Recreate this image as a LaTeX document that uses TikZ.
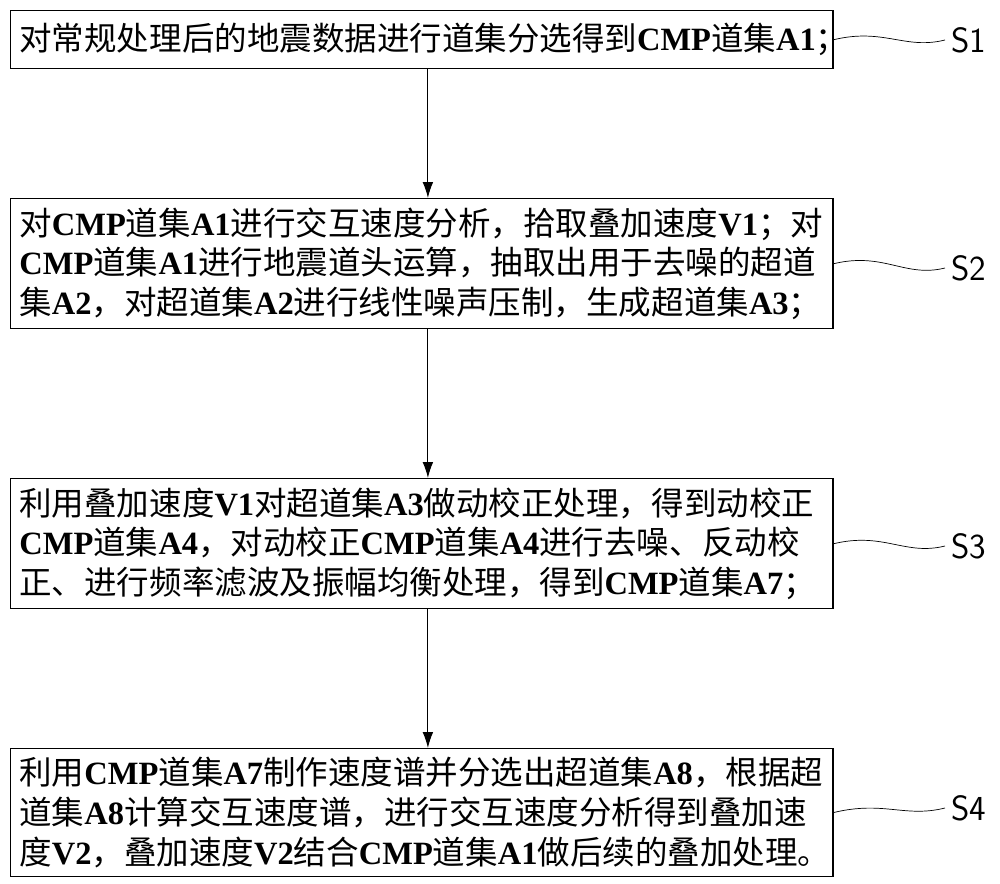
\documentclass[tikz,border=0pt]{standalone}
\usepackage{fontspec}
\usetikzlibrary{arrows.meta}
\newfontfamily\cjk{Noto Sans CJK SC}
\newfontfamily\latn{Liberation Serif}
\newcommand{\lt}[1]{{\latn\bfseries #1}}
\begin{document}
\begin{tikzpicture}[x=0.02cm,y=-0.02cm,>={Latex[length=9pt,width=6pt]},
    stepbox/.style={draw,thick,anchor=north west,minimum width=16.36cm,text width=16.1cm,
        align=left,inner sep=5pt,font=\cjk\fontsize{18.5}{22.5}\selectfont},
    lead/.style={thin}]
    \useasboundingbox (0,0) rectangle (1000,884);
    \node[stepbox,minimum height=1.16cm] (b1) at (10,10) {对常规处理后的地震数据进行道集分选得到\lt{CMP}道集\lt{A1}；};
    \node[stepbox,minimum height=2.6cm] (b2) at (10,198) {对\lt{CMP}道集\lt{A1}进行交互速度分析，拾取叠加速度\lt{V1}；对\\\lt{CMP}道集\lt{A1}进行地震道头运算，抽取出用于去噪的超道\\集\lt{A2}，对超道集\lt{A2}进行线性噪声压制，生成超道集\lt{A3}；};
    \node[stepbox,minimum height=2.6cm] (b3) at (10,478) {利用叠加速度\lt{V1}对超道集\lt{A3}做动校正处理，得到动校正\\\lt{CMP}道集\lt{A4}，对动校正\lt{CMP}道集\lt{A4}进行去噪、反动校\\正、进行频率滤波及振幅均衡处理，得到\lt{CMP}道集\lt{A7}；};
    \node[stepbox,minimum height=2.48cm] (b4) at (10,748) {利用\lt{CMP}道集\lt{A7}制作速度谱并分选出超道集\lt{A8}，根据超\\道集\lt{A8}计算交互速度谱，进行交互速度分析得到叠加速\\度\lt{V2}，叠加速度\lt{V2}结合\lt{CMP}道集\lt{A1}做后续的叠加处理。};
    % step labels
    \foreach \n/\y in {1/40,2/268,3/546,4/808}
        \node[font=\sffamily\fontsize{20}{24}\selectfont,anchor=west] (s\n) at (945,\y) {S\n};
    % arrows
    \foreach \a/\b in {b1/b2,b2/b3,b3/b4}
        \draw[->,semithick] ([xshift=0.12cm]\a.south) -- ([xshift=0.12cm]\b.north);
    % leaders
    \foreach \n in {1,2,3,4}
        \draw[lead] (b\n.east) .. controls +(50,-12) and +(-40,10) .. (s\n.west);
\end{tikzpicture}
\end{document}
